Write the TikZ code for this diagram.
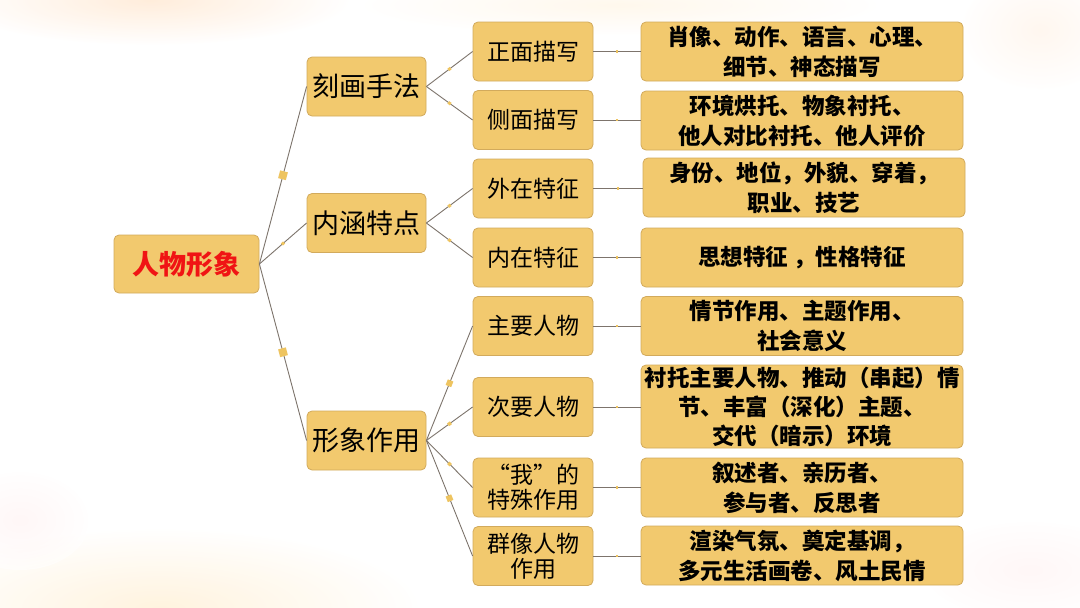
\documentclass[tikz,border=0pt]{standalone}
\usepackage{fontspec}
\setmainfont{Noto Sans CJK SC}
\definecolor{boxfill}{HTML}{F2C96E}
\definecolor{boxline}{HTML}{D2AA5C}
\definecolor{conn}{HTML}{7D746C}
\definecolor{mk}{HTML}{EEC460}
\definecolor{rootred}{HTML}{F01414}
\tikzset{
  box/.style={draw=boxline, line width=0.8pt, fill=boxfill, rounded corners=5pt, inner sep=0pt, align=center, text=black},
  rootbox/.style={box, minimum width=145pt, minimum height=58pt, font=\fontsize{27}{30}\selectfont\bfseries, text=rootred},
  lone/.style={box, minimum width=119pt, minimum height=59pt, font=\fontsize{27}{28}\selectfont},
  ltwo/.style={box, minimum width=120pt, minimum height=59pt, font=\fontsize{23}{25}\selectfont},
  lthree/.style={box, minimum width=322pt, minimum height=59pt, font=\fontsize{22.5}{30}\selectfont\bfseries},
  conline/.style={draw=conn, line width=0.9pt},
  mk/.style={fill=mk, inner sep=0pt, minimum size=#1, sloped, pos=0.5, rectangle}
}
\begin{document}
\begin{tikzpicture}[x=1pt,y=-1pt]
\useasboundingbox (0,0) rectangle (1080,608);
\fill[white] (0,0) rectangle (1080,608);
% soft watercolour background
\shade[inner color=orange!20, outer color=white, opacity=0.7] (150,0) ellipse (200 and 45);
\shade[inner color=yellow!25!orange!12, outer color=white, opacity=0.6] (620,5) ellipse (260 and 30);
\shade[inner color=orange!12, outer color=white, opacity=0.5] (1040,30) ellipse (80 and 60);
\shade[inner color=yellow!30!orange!18, outer color=white, opacity=0.7] (160,608) ellipse (260 and 80);
\shade[inner color=red!6, outer color=white, opacity=0.5] (20,520) ellipse (70 and 50);
\shade[inner color=red!6, outer color=white, opacity=0.5] (1030,570) ellipse (110 and 50);

% nodes
\node[rootbox] (root) at (186.5,264) {人物形象};

\node[lone] (a) at (366.5,86.5) {刻画手法};
\node[lone] (b) at (366.5,223) {内涵特点};
\node[lone] (c) at (366.5,440.5) {形象作用};

\node[ltwo] (a1) at (533,51.5) {正面描写};
\node[ltwo] (a2) at (533,120) {侧面描写};
\node[ltwo] (b1) at (533,188.5) {外在特征};
\node[ltwo] (b2) at (533,257.5) {内在特征};
\node[ltwo] (c1) at (533,326) {主要人物};
\node[ltwo] (c2) at (533,407) {次要人物};
\node[ltwo] (c3) at (533,487.5) {“我”的\\特殊作用};
\node[ltwo] (c4) at (533,556) {群像人物\\作用};

\node[lthree] (a1t) at (802,51.5) {肖像、动作、语言、心理、\\细节、神态描写};
\node[lthree] (a2t) at (802,120.5) {环境烘托、物象衬托、\\他人对比衬托、他人评价};
\node[lthree] (b1t) at (804,187.5) {身份、地位，外貌、穿着，\\职业、技艺};
\node[lthree] (b2t) at (802,257.5) {思想特征 ，性格特征};
\node[lthree] (c1t) at (802,326) {情节作用、主题作用、\\社会意义};
\node[lthree, minimum height=83pt, font=\fontsize{22.5}{29}\selectfont\bfseries] (c2t) at (802,406.5) {衬托主要人物、推动（串起）情\\节、丰富（深化）主题、\\交代（暗示）环境};
\node[lthree] (c3t) at (802,487.5) {叙述者、亲历者、\\参与者、反思者};
\node[lthree] (c4t) at (802,555.5) {渲染气氛、奠定基调，\\多元生活画卷、风土民情};

% connectors
\path[conline] (root.east) -- node[mk=8pt]{} (a.west);
\path[conline] (root.east) -- node[mk=3pt]{} (b.west);
\path[conline] (root.east) -- node[mk=8pt]{} (c.west);

\path[conline] (a.east) -- node[mk=3pt]{} (a1.west);
\path[conline] (a.east) -- node[mk=3pt]{} (a2.west);
\path[conline] (b.east) -- node[mk=3pt]{} (b1.west);
\path[conline] (b.east) -- node[mk=3pt]{} (b2.west);
\path[conline] (c.east) -- node[mk=6pt]{} (c1.west);
\path[conline] (c.east) -- node[mk=3.5pt]{} (c2.west);
\path[conline] (c.east) -- node[mk=3.5pt]{} (c3.west);
\path[conline] (c.east) -- node[mk=6pt]{} (c4.west);

\path[conline] (a1.east) -- node[mk=2.5pt]{} (a1.east -| a1t.west);
\path[conline] (a2.east) -- node[mk=2.5pt]{} (a2.east -| a2t.west);
\path[conline] (b1.east) -- node[mk=2.5pt]{} (b1.east -| b1t.west);
\path[conline] (b2.east) -- node[mk=2.5pt]{} (b2.east -| b2t.west);
\path[conline] (c1.east) -- node[mk=2.5pt]{} (c1.east -| c1t.west);
\path[conline] (c2.east) -- node[mk=2.5pt]{} (c2.east -| c2t.west);
\path[conline] (c3.east) -- node[mk=2.5pt]{} (c3.east -| c3t.west);
\path[conline] (c4.east) -- node[mk=2.5pt]{} (c4.east -| c4t.west);
\end{tikzpicture}
\end{document}
